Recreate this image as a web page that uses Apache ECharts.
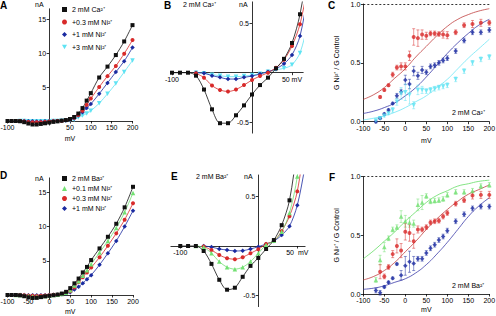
<!DOCTYPE html>
<html>
<head>
<meta charset="utf-8">
<script src="https://cdn.jsdelivr.net/npm/echarts@6/dist/echarts.min.js"></script>
<style>
  html, body { margin: 0; padding: 0; background: #fff; }
  #main { width: 496px; height: 316px; }
</style>
</head>
<body>
<div id="main"></div>
<script>
// voltages (mV) for the current-voltage panels A, B, D, E
var volts = [-100,-90,-80,-70,-60,-50,-40,-30,-20,-10,0,10,20,30,40,50,60,70,80,90,100,120,140,160,180,200];

// 2 mM Ca2+ currents (nA)
var caCtrl = [0,0,0,-0.03,-0.17,-0.37,-0.51,-0.51,-0.43,-0.33,-0.22,-0.125,-0.05,0.044,0.14,0.30,0.59,1.1,1.9,3.0,4.1,6.4,8.0,9.7,11.7,14.1];
var caNi03 = [null,null,null,-0.005,-0.05,-0.13,-0.175,-0.19,-0.17,-0.125,-0.074,-0.034,0,0.05,0.13,0.27,0.49,0.9,1.5,2.4,3.3,5.0,6.6,8.1,9.9,11.9];
var caNi1 = [null,null,null,0,-0.005,-0.03,-0.047,-0.064,-0.064,-0.047,-0.034,-0.013,0.01,0.04,0.09,0.18,0.37,0.8,1.3,1.9,2.5,4.0,5.6,7.2,8.8,10.8];
var caNi3 = [null,null,null,0,-0.005,-0.02,-0.03,-0.04,-0.04,-0.034,-0.024,-0.01,0.01,0.03,0.044,0.08,0.2,0.5,0.8,1.1,1.5,2.6,4.0,5.5,7.2,8.9];

// 2 mM Ba2+ currents (nA)
var baCtrl = [0,0,0,-0.05,-0.18,-0.34,-0.44,-0.42,-0.31,-0.2,-0.12,-0.03,0.06,0.21,0.46,1.0,1.7,2.4,3.3,4.1,5.1,6.8,8.5,10.4,12.8,15.8];
var baNi01 = [null,null,0,-0.013,-0.073,-0.157,-0.213,-0.233,-0.213,-0.157,-0.073,0.01,0.053,0.143,0.333,0.70,1.4,2.0,2.8,3.6,4.5,6.2,7.9,9.8,12.1,14.9];
var baNi03 = [null,null,null,-0.005,-0.04,-0.09,-0.123,-0.133,-0.113,-0.073,-0.033,0.02,0.05,0.15,0.30,0.55,1.1,1.9,2.6,3.3,4.0,5.5,7.2,9.0,11.0,13.4];
var baNi1 = [null,null,null,0,-0.01,-0.03,-0.04,-0.05,-0.047,-0.03,-0.007,0.02,0.05,0.11,0.2,0.41,0.8,1.2,1.7,2.3,2.9,4.4,6.1,7.9,10.0,12.3];

// conductance ratio panels C, F
var gVolts = [-70,-60,-50,-40,-30,-20,-10,0,10,20,30,40,50,60,70,80,90,100,120,140,160,180,200];
var cRed = [null,0.21,0.27,0.31,0.40,0.46,0.47,0.47,0.56,0.72,0.71,0.74,0.73,0.75,0.75,0.745,0.74,0.735,0.76,0.82,0.83,0.84,0.84];
var cRedErr = [null,0.01,0.01,0.01,0.02,0.02,0.03,0.03,0.04,0.07,0.07,0.04,0.03,0.02,0.02,0.02,0.03,0.03,0.02,0.02,0.03,0.03,0.02];
var cBlue = [0.0,0.03,0.065,0.10,0.155,0.22,0.255,0.355,0.32,0.43,0.39,0.44,0.42,0.47,0.48,0.50,0.52,0.54,0.60,0.69,0.76,0.76,0.78];
var cBlueErr = [0.01,0.01,0.01,0.01,0.01,0.02,0.02,0.04,0.04,0.04,0.03,0.03,0.02,0.02,0.02,0.02,0.02,0.02,0.02,0.02,0.02,0.02,0.02];
var cCyan = [0.01,0.03,0.05,0.07,0.10,0.17,0.24,0.25,0.23,0.14,0.27,0.27,0.26,0.27,0.28,0.29,0.30,0.31,0.36,0.43,0.50,0.53,0.55];
var cCyanErr = [0.01,0.01,0.01,0.01,0.02,0.03,0.05,0.07,0.08,0.03,0.04,0.03,0.02,0.02,0.02,0.02,0.02,0.02,0.02,0.02,0.02,0.02,0.02];
var fGreen = [0.12,0.29,0.40,0.475,0.55,0.57,0.66,0.62,0.61,0.60,0.76,0.78,0.835,0.79,0.795,0.80,0.81,0.845,0.87,0.87,0.88,0.92,0.93];
var fGreenErr = [0.02,0.04,0.04,0.02,0.02,0.02,0.05,0.05,0.04,0.03,0.05,0.06,0.02,0.02,0.02,0.02,0.02,0.02,0.02,0.02,0.02,0.02,0.02];
var fRed = [null,0.19,0.15,0.23,0.34,0.41,0.37,0.53,0.52,0.45,0.55,0.55,0.57,0.61,0.62,0.625,0.66,0.69,0.77,0.80,0.84,0.845,0.845];
var fRedErr = [null,0.06,0.02,0.02,0.03,0.06,0.06,0.07,0.07,0.06,0.03,0.02,0.02,0.02,0.02,0.02,0.02,0.02,0.02,0.02,0.03,0.03,0.03];
var fBlue = [0.03,0.01,0.06,0.10,0.135,0.255,0.16,0.24,0.275,0.26,0.30,0.30,0.35,0.39,0.42,0.46,0.49,0.54,0.62,0.68,0.73,0.745,0.745];
var fBlueErr = [0.02,0.02,0.01,0.01,0.01,0.01,0.04,0.08,0.09,0.06,0.02,0.02,0.02,0.02,0.02,0.02,0.02,0.02,0.02,0.02,0.02,0.02,0.02];

// fitted curves
var fitVolts = [-100,-75,-50,-25,0,25,50,75,100,125,150,175,200];
var cRedFit = [0.19,0.23,0.29,0.37,0.45,0.55,0.64,0.73,0.81,0.87,0.91,0.94,0.96];
var cBlueFit = [0.07,0.09,0.12,0.16,0.22,0.29,0.38,0.48,0.58,0.67,0.75,0.82,0.87];
var cCyanFit = [0.015,0.03,0.05,0.08,0.12,0.17,0.22,0.29,0.36,0.45,0.54,0.62,0.70];
var fGreenFit = [0.30,0.37,0.45,0.53,0.62,0.70,0.78,0.84,0.88,0.92,0.94,0.96,0.97];
var fRedFit = [0.12,0.15,0.20,0.27,0.36,0.45,0.55,0.64,0.72,0.79,0.85,0.89,0.93];
var fBlueFit = [0.04,0.05,0.07,0.10,0.13,0.18,0.25,0.34,0.44,0.55,0.66,0.75,0.82];

var BLACK = "#111", RED = "#d82a2a", BLUE = "#1a2aa0", CYAN = "#5fe3f3", GREEN = "#72e072";
var FONT = "Liberation Sans";
var INV_TRI = "path://M0,0L10,0L5,9Z";

// panel frames: pixel box + value ranges
var panels = [
  { left: 7.5, top: 8.8, width: 125, height: 116.3, xmin: -100, xmax: 200, ymin: -0.6, ymax: 16.5, cross: true },
  { left: 172, top: 1.9, width: 131.2, height: 131.2, xmin: -100, xmax: 64, ymin: -0.61, ymax: 0.715, cross: true },
  { left: 363.3, top: 4, width: 126, height: 117.7, xmin: -100, xmax: 200, ymin: 0, ymax: 1 },
  { left: 7.5, top: 177.9, width: 125.5, height: 121.2, xmin: -100, xmax: 200, ymin: -0.6, ymax: 17.1, cross: true },
  { left: 170.9, top: 175, width: 134.2, height: 131.6, xmin: -112, xmax: 60, ymin: -0.61, ymax: 0.715, cross: true },
  { left: 363.3, top: 176.7, width: 126, height: 117.3, xmin: -100, xmax: 200, ymin: 0, ymax: 1 }
];

function zip(xs, ys) {
  return xs.map(function (x, i) { return [x, ys[i]]; });
}

var lbl = { fontSize: 7, color: "#000", fontFamily: FONT, margin: 3 };
var tck = { length: 2.5, lineStyle: { color: "#000", width: 0.8 } };

function merge(a, b) {
  var o = {};
  for (var k in a) o[k] = a[k];
  for (var k2 in b) o[k2] = b[k2];
  return o;
}

function xAx(i, extra) {
  var p = panels[i];
  var off = p.cross ? -(0 - p.ymin) / (p.ymax - p.ymin) * p.height : 0;
  return merge({
    type: "value", gridIndex: i, min: p.xmin, max: p.xmax, position: "bottom", offset: off,
    axisLine: { onZero: false, lineStyle: { color: "#000", width: 0.8 } },
    axisTick: tck, axisLabel: lbl, splitLine: { show: false },
    nameTextStyle: { fontSize: 7, fontFamily: FONT, color: "#000" }
  }, extra);
}

function yAx(i, extra) {
  var p = panels[i];
  var off = p.cross ? -(0 - p.xmin) / (p.xmax - p.xmin) * p.width : 0;
  return merge({
    type: "value", gridIndex: i, min: p.ymin, max: p.ymax, position: "left", offset: off,
    axisLine: { onZero: false, lineStyle: { color: "#000", width: 0.8 } },
    axisTick: tck, axisLabel: lbl, splitLine: { show: false },
    nameTextStyle: { fontSize: 7, fontFamily: FONT, color: "#000" }
  }, extra);
}

function ivSeries(idx, name, ys, color, symbol, size, rotate) {
  return {
    type: "line", name: name, xAxisIndex: idx, yAxisIndex: idx,
    data: zip(volts, ys), symbol: symbol, symbolSize: size, symbolRotate: rotate || 0,
    smooth: 0.3, connectNulls: false,
    itemStyle: { color: color }, lineStyle: { color: color, width: 0.8 }
  };
}

function dots(idx, name, ys, color, symbol, size, rotate) {
  return {
    type: "scatter", name: name, xAxisIndex: idx, yAxisIndex: idx, z: 3,
    data: zip(gVolts, ys).filter(function (p) { return p[1] != null; }),
    symbol: symbol, symbolSize: size, symbolRotate: rotate || 0,
    itemStyle: { color: color }
  };
}

function fit(idx, ys, color) {
  return {
    type: "line", xAxisIndex: idx, yAxisIndex: idx, data: zip(fitVolts, ys),
    smooth: true, symbol: "none", lineStyle: { color: color, width: 0.8 }, z: 1
  };
}

function errBars(idx, ys, es, color) {
  var d = [];
  gVolts.forEach(function (x, i) {
    if (ys[i] != null) d.push([x, ys[i] - es[i], ys[i] + es[i]]);
  });
  return {
    type: "custom", xAxisIndex: idx, yAxisIndex: idx, z: 2, data: d,
    encode: { x: 0, y: [1, 2] },
    renderItem: function (params, api) {
      var p1 = api.coord([api.value(0), api.value(1)]);
      var p2 = api.coord([api.value(0), api.value(2)]);
      var st = { stroke: color, lineWidth: 0.7, opacity: 0.7 };
      return { type: "group", children: [
        { type: "line", shape: { x1: p1[0], y1: p1[1], x2: p2[0], y2: p2[1] }, style: st },
        { type: "line", shape: { x1: p1[0] - 1.5, y1: p1[1], x2: p1[0] + 1.5, y2: p1[1] }, style: st },
        { type: "line", shape: { x1: p2[0] - 1.5, y1: p2[1], x2: p2[0] + 1.5, y2: p2[1] }, style: st }
      ]};
    }
  };
}

function txt(left, top, s, opt) {
  opt = opt || {};
  return {
    type: "text", left: left, top: top, silent: true, z: 100,
    style: { text: s, fill: "#000000", font: (opt.bold ? "bold " : "") + (opt.size || 7) + "px " + FONT }
  };
}

var dashed = {
  silent: true, symbol: "none", label: { show: false },
  lineStyle: { color: "#000", type: [2, 2], width: 0.8 },
  data: [{ yAxis: 1 }]
};

var oneDec = function (v) { return v.toFixed(1); };
var gName = "G Ni\u00b2\u207a / G Control";

var chart = echarts.init(document.getElementById("main"), null, { renderer: "svg" });

var legendText = { fontSize: 7, color: "#000", fontFamily: FONT };

chart.setOption({
  animation: false,
  backgroundColor: "#fff",
  grid: panels.map(function (p) {
    return { left: p.left, top: p.top, width: p.width, height: p.height, outerBoundsMode: "none" };
  }),
  xAxis: [
    xAx(0, { name: "mV", nameLocation: "middle", nameGap: 14,
      axisTick: merge(tck, { customValues: [-100,-50,50,100,150,200] }),
      axisLabel: merge(lbl, { customValues: [-100,50,100,150,200] }) }),
    xAx(1, {
      axisTick: merge(tck, { customValues: [-100,-50,50] }),
      axisLabel: merge(lbl, { customValues: [-100,50],
        formatter: function (v) { return v === 50 ? "50 mV" : String(v); } }) }),
    xAx(2, { interval: 50, name: "mV", nameLocation: "middle", nameGap: 15 }),
    xAx(3, { name: "mV", nameLocation: "middle", nameGap: 13,
      axisTick: merge(tck, { customValues: [-100,-50,0,50,100,150,200] }),
      axisLabel: merge(lbl, { customValues: [-100,-50,0,50,100,150,200] }) }),
    xAx(4, {
      axisTick: merge(tck, { customValues: [-100,-50,50] }),
      axisLabel: merge(lbl, { customValues: [-100,50],
        formatter: function (v) { return v === 50 ? "50  mV" : String(v); } }) }),
    xAx(5, { interval: 50, name: "mV", nameLocation: "middle", nameGap: 12 })
  ],
  yAxis: [
    yAx(0, { axisTick: merge(tck, { customValues: [5,10,15] }), axisLabel: merge(lbl, { customValues: [5,10,15] }) }),
    yAx(1, { axisTick: merge(tck, { customValues: [-0.5,0.5] }), axisLabel: merge(lbl, { customValues: [-0.5,0.5] }) }),
    yAx(2, { interval: 0.5, axisLabel: merge(lbl, { formatter: oneDec }),
      name: gName, nameLocation: "middle", nameGap: 23 }),
    yAx(3, { axisTick: merge(tck, { customValues: [5,10,15] }), axisLabel: merge(lbl, { customValues: [5,10,15] }) }),
    yAx(4, { axisTick: merge(tck, { customValues: [-0.5,0.5] }), axisLabel: merge(lbl, { customValues: [-0.5,0.5] }) }),
    yAx(5, { interval: 0.5, axisLabel: merge(lbl, { formatter: oneDec }),
      name: gName, nameLocation: "middle", nameGap: 23 })
  ],
  legend: [
    { left: 57, top: 1, orient: "vertical", itemWidth: 5, itemHeight: 5, itemGap: 5.5, textStyle: legendText,
      selectedMode: false,
      data: [
        { name: "2 mM Ca\u00b2\u207a", icon: "rect" },
        { name: "+0.3 mM Ni\u00b2\u207a", icon: "circle" },
        { name: "+1 mM Ni\u00b2\u207a", icon: "diamond" },
        { name: "+3 mM Ni\u00b2\u207a", icon: INV_TRI }
      ] },
    { left: 57, top: 170, orient: "vertical", itemWidth: 5, itemHeight: 5, itemGap: 3, textStyle: legendText,
      selectedMode: false,
      data: [
        { name: "2 mM Ba\u00b2\u207a", icon: "rect" },
        { name: "+0.1 mM Ni\u00b2\u207a", icon: "triangle" },
        { name: "+0.3 mM Ni\u00b2\u207a", icon: "circle" },
        { name: "+1 mM Ni\u00b2\u207a", icon: "diamond" }
      ] }
  ],
  graphic: [
    txt(0, 0, "A", { bold: true, size: 10 }),
    txt(35, 1, "nA"),
    txt(164, 0, "B", { bold: true, size: 10 }),
    txt(183, 1, "2 mM Ca\u00b2\u207a"),
    txt(239, 1, "nA"),
    txt(328, 0, "C", { bold: true, size: 10 }),
    txt(452, 109, "2 mM Ca\u00b2\u207a"),
    txt(0, 170, "D", { bold: true, size: 10 }),
    txt(35, 175, "nA"),
    txt(171, 171, "E", { bold: true, size: 10 }),
    txt(196, 173, "2 mM Ba\u00b2\u207a"),
    txt(244, 173, "nA"),
    txt(329, 172, "F", { bold: true, size: 10 }),
    txt(452, 282, "2 mM Ba\u00b2\u207a")
  ],
  series: [
    // A
    ivSeries(0, "+3 mM Ni\u00b2\u207a", caNi3, CYAN, "triangle", 4.5, 180),
    ivSeries(0, "+1 mM Ni\u00b2\u207a", caNi1, BLUE, "diamond", 4.5),
    ivSeries(0, "+0.3 mM Ni\u00b2\u207a", caNi03, RED, "circle", 4),
    ivSeries(0, "2 mM Ca\u00b2\u207a", caCtrl, BLACK, "rect", 4),
    // B
    ivSeries(1, "+3 mM Ni\u00b2\u207a", caNi3, CYAN, "triangle", 4.5, 180),
    ivSeries(1, "+1 mM Ni\u00b2\u207a", caNi1, BLUE, "diamond", 4.5),
    ivSeries(1, "+0.3 mM Ni\u00b2\u207a", caNi03, RED, "circle", 4),
    ivSeries(1, "2 mM Ca\u00b2\u207a", caCtrl, BLACK, "rect", 4),
    // C
    merge(fit(2, cRedFit, "#c04040"), { markLine: dashed }),
    fit(2, cBlueFit, "#3a3aa8"),
    fit(2, cCyanFit, "#6ee6f5"),
    errBars(2, cRed, cRedErr, RED),
    errBars(2, cBlue, cBlueErr, BLUE),
    errBars(2, cCyan, cCyanErr, CYAN),
    dots(2, "cRed", cRed, RED, "circle", 4),
    dots(2, "cBlue", cBlue, BLUE, "diamond", 4.5),
    dots(2, "cCyan", cCyan, CYAN, "triangle", 4.5, 180),
    // D
    ivSeries(3, "+1 mM Ni\u00b2\u207a", baNi1, BLUE, "diamond", 4.5),
    ivSeries(3, "+0.3 mM Ni\u00b2\u207a", baNi03, RED, "circle", 4),
    ivSeries(3, "+0.1 mM Ni\u00b2\u207a", baNi01, GREEN, "triangle", 4.5),
    ivSeries(3, "2 mM Ba\u00b2\u207a", baCtrl, BLACK, "rect", 4),
    // E
    ivSeries(4, "+1 mM Ni\u00b2\u207a", baNi1, BLUE, "diamond", 4.5),
    ivSeries(4, "+0.3 mM Ni\u00b2\u207a", baNi03, RED, "circle", 4),
    ivSeries(4, "+0.1 mM Ni\u00b2\u207a", baNi01, GREEN, "triangle", 4.5),
    ivSeries(4, "2 mM Ba\u00b2\u207a", baCtrl, BLACK, "rect", 4),
    // F
    merge(fit(5, fGreenFit, "#66dd66"), { markLine: dashed }),
    fit(5, fRedFit, "#c04040"),
    fit(5, fBlueFit, "#3a3aa8"),
    errBars(5, fGreen, fGreenErr, GREEN),
    errBars(5, fRed, fRedErr, RED),
    errBars(5, fBlue, fBlueErr, BLUE),
    dots(5, "fGreen", fGreen, GREEN, "triangle", 4.5),
    dots(5, "fRed", fRed, RED, "circle", 4),
    dots(5, "fBlue", fBlue, BLUE, "diamond", 4.5)
  ]
});
</script>
</body>
</html>
